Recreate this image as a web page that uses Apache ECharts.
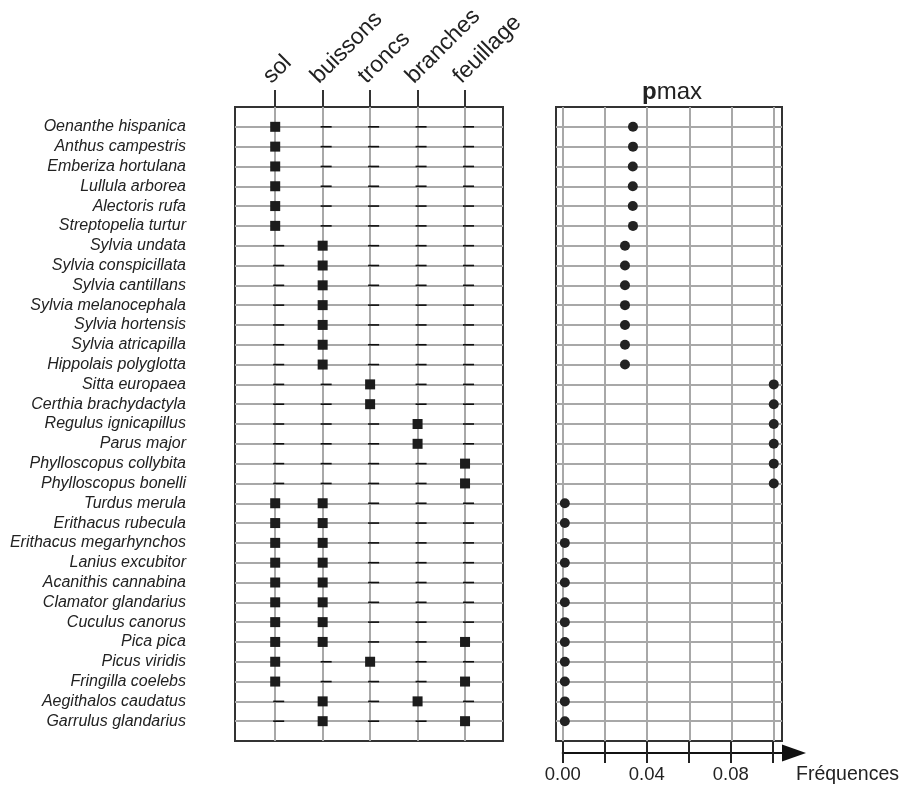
<!DOCTYPE html>
<html>
<head>
<meta charset="utf-8">
<script src="https://cdn.jsdelivr.net/npm/echarts@6/dist/echarts.min.js"></script>
<style>
  html, body { margin: 0; padding: 0; background: #fff; }
  #chart { width: 900px; height: 787px; }
</style>
</head>
<body>
<div id="chart"></div>
<script>
// Strates de végétation utilisées
const strata = ['sol', 'buissons', 'troncs', 'branches', 'feuillage'];

// Espèces, de haut en bas
const species = [
  'Oenanthe hispanica', 'Anthus campestris', 'Emberiza hortulana', 'Lullula arborea',
  'Alectoris rufa', 'Streptopelia turtur', 'Sylvia undata', 'Sylvia conspicillata',
  'Sylvia cantillans', 'Sylvia melanocephala', 'Sylvia hortensis', 'Sylvia atricapilla',
  'Hippolais polyglotta', 'Sitta europaea', 'Certhia brachydactyla', 'Regulus ignicapillus',
  'Parus major', 'Phylloscopus collybita', 'Phylloscopus bonelli', 'Turdus merula',
  'Erithacus rubecula', 'Erithacus megarhynchos', 'Lanius excubitor', 'Acanithis cannabina',
  'Clamator glandarius', 'Cuculus canorus', 'Pica pica', 'Picus viridis',
  'Fringilla coelebs', 'Aegithalos caudatus', 'Garrulus glandarius'
];

// Strates fréquentées par chaque espèce
const usage = [
  ['sol'], ['sol'], ['sol'], ['sol'], ['sol'], ['sol'],
  ['buissons'], ['buissons'], ['buissons'], ['buissons'], ['buissons'], ['buissons'], ['buissons'],
  ['troncs'], ['troncs'],
  ['branches'], ['branches'],
  ['feuillage'], ['feuillage'],
  ['sol', 'buissons'], ['sol', 'buissons'], ['sol', 'buissons'], ['sol', 'buissons'],
  ['sol', 'buissons'], ['sol', 'buissons'], ['sol', 'buissons'],
  ['sol', 'buissons', 'feuillage'],
  ['sol', 'troncs'],
  ['sol', 'feuillage'],
  ['buissons', 'branches'],
  ['buissons', 'feuillage']
];

// Fréquence maximale (p max) par espèce
const pmax = [
  0.0333, 0.0333, 0.0332, 0.0332, 0.0332, 0.0333,
  0.0295, 0.0295, 0.0295, 0.0295, 0.0295, 0.0295, 0.0295,
  0.1, 0.1, 0.1, 0.1, 0.1, 0.1,
  0.001, 0.001, 0.001, 0.001, 0.001, 0.001, 0.001, 0.001, 0.001, 0.001, 0.001, 0.001
];

// Graduations de l'axe des fréquences
const freqTicks = [0, 0.02, 0.04, 0.06, 0.08, 0.10];
const freqLabels = [0, 0.04, 0.08];

const colIdx = strata.map((s, i) => i + 1);
const used = [];
const unused = [];
usage.forEach((list, r) => {
  strata.forEach((s, c) => {
    if (list.indexOf(s) >= 0) used.push([c + 1, r + 1]);
    else unused.push([c + 1, r + 1]);
  });
});
const dots = pmax.map((v, r) => [v, r + 1]);

const GRID_LINE = { color: '#a8a8a8', width: 2 };
const DARK = '#333';
const FONT = 'Liberation Sans, Arial, sans-serif';

const rowAxis = (gridIndex, withLabels) => ({
  type: 'value', gridIndex, min: 0, max: species.length + 1, interval: 1, inverse: true,
  axisLine: { show: false }, axisTick: { show: false },
  splitLine: { show: true, lineStyle: GRID_LINE, showMinLine: false, showMaxLine: false },
  axisLabel: withLabels ? {
    show: true, margin: 49, fontSize: 16, fontStyle: 'italic', color: '#222', fontFamily: FONT,
    formatter: v => species[v - 1] || ''
  } : { show: false }
});

const chart = echarts.init(document.getElementById('chart'), null, { renderer: 'canvas' });
chart.setOption({
  animation: false,
  backgroundColor: '#fff',
  textStyle: { fontFamily: FONT },
  title: {
    text: '{p|p}{m|max}',
    left: 667, top: 75, textAlign: 'center',
    textStyle: {
      rich: {
        p: { fontSize: 24, fontWeight: 'bold', color: '#222', fontFamily: FONT },
        m: { fontSize: 24, fontWeight: 'normal', color: '#222', fontFamily: FONT }
      }
    }
  },
  grid: [
    { left: 235, top: 107, width: 268, height: 634, show: true, borderColor: DARK, borderWidth: 2, backgroundColor: 'transparent' },
    { left: 556, top: 107, width: 226, height: 634, show: true, borderColor: DARK, borderWidth: 2, backgroundColor: 'transparent' },
    { left: 562.7, top: 700, width: 232.3, height: 53, show: false }
  ],
  xAxis: [
    {
      type: 'value', gridIndex: 0, position: 'top', min: 0.153, max: 5.80,
      axisLine: { show: false },
      axisTick: { show: true, inside: false, length: 17, customValues: colIdx, lineStyle: { color: DARK, width: 2 } },
      axisLabel: {
        show: true, customValues: colIdx, rotate: 45, margin: 19, fontSize: 23, color: '#222', fontFamily: FONT,
        verticalAlign: 'bottom',
        formatter: v => strata[v - 1] || ''
      },
      splitLine: { show: true, lineStyle: GRID_LINE }
    },
    {
      type: 'value', gridIndex: 1, min: -0.00318, max: 0.1039,
      axisLine: { show: false },
      axisTick: { show: false, customValues: freqTicks },
      axisLabel: { show: false },
      splitLine: { show: true, lineStyle: GRID_LINE }
    },
    {
      type: 'value', gridIndex: 2, position: 'bottom', min: 0, max: 0.1101,
      axisLine: { show: true, lineStyle: { color: '#111', width: 2 }, symbol: ['none', 'triangle'], symbolSize: [17, 24] },
      axisTick: { show: true, inside: false, length: 10, customValues: freqTicks, lineStyle: { color: '#222', width: 2 } },
      axisLabel: {
        show: true, customValues: freqLabels, margin: 12, fontSize: 18.5, color: '#222', fontFamily: FONT,
        formatter: v => v.toFixed(2)
      },
      splitLine: { show: false },
      name: 'Fréquences', nameLocation: 'end', nameGap: 2,
      nameTextStyle: { fontSize: 19.5, color: '#222', fontFamily: FONT, align: 'left', verticalAlign: 'top', padding: [12, 0, 0, 0] }
    },
    {
      type: 'value', gridIndex: 2, position: 'bottom', min: 0, max: 0.1101,
      axisLine: { show: false },
      axisTick: { show: true, inside: true, length: 11, customValues: freqTicks, lineStyle: { color: '#222', width: 2 } },
      axisLabel: { show: false },
      splitLine: { show: false }
    }
  ],
  yAxis: [
    rowAxis(0, true),
    rowAxis(1, false),
    { type: 'value', gridIndex: 2, min: 0, max: 1, show: false }
  ],
  series: [
    {
      type: 'scatter', name: 'absent', xAxisIndex: 0, yAxisIndex: 0, data: unused,
      symbol: 'rect', symbolSize: [11, 1.6], symbolOffset: [3.5, 0],
      itemStyle: { color: '#111', opacity: 1 }, silent: true, z: 3
    },
    {
      type: 'scatter', name: 'strate', xAxisIndex: 0, yAxisIndex: 0, data: used,
      symbol: 'rect', symbolSize: 10,
      itemStyle: { color: '#1c1c1c', opacity: 1 }, silent: true, z: 4
    },
    {
      type: 'scatter', name: 'pmax', xAxisIndex: 1, yAxisIndex: 1, data: dots,
      symbol: 'circle', symbolSize: 10,
      itemStyle: { color: '#222', opacity: 1 }, silent: true, z: 4
    }
  ]
});
</script>
</body>
</html>
